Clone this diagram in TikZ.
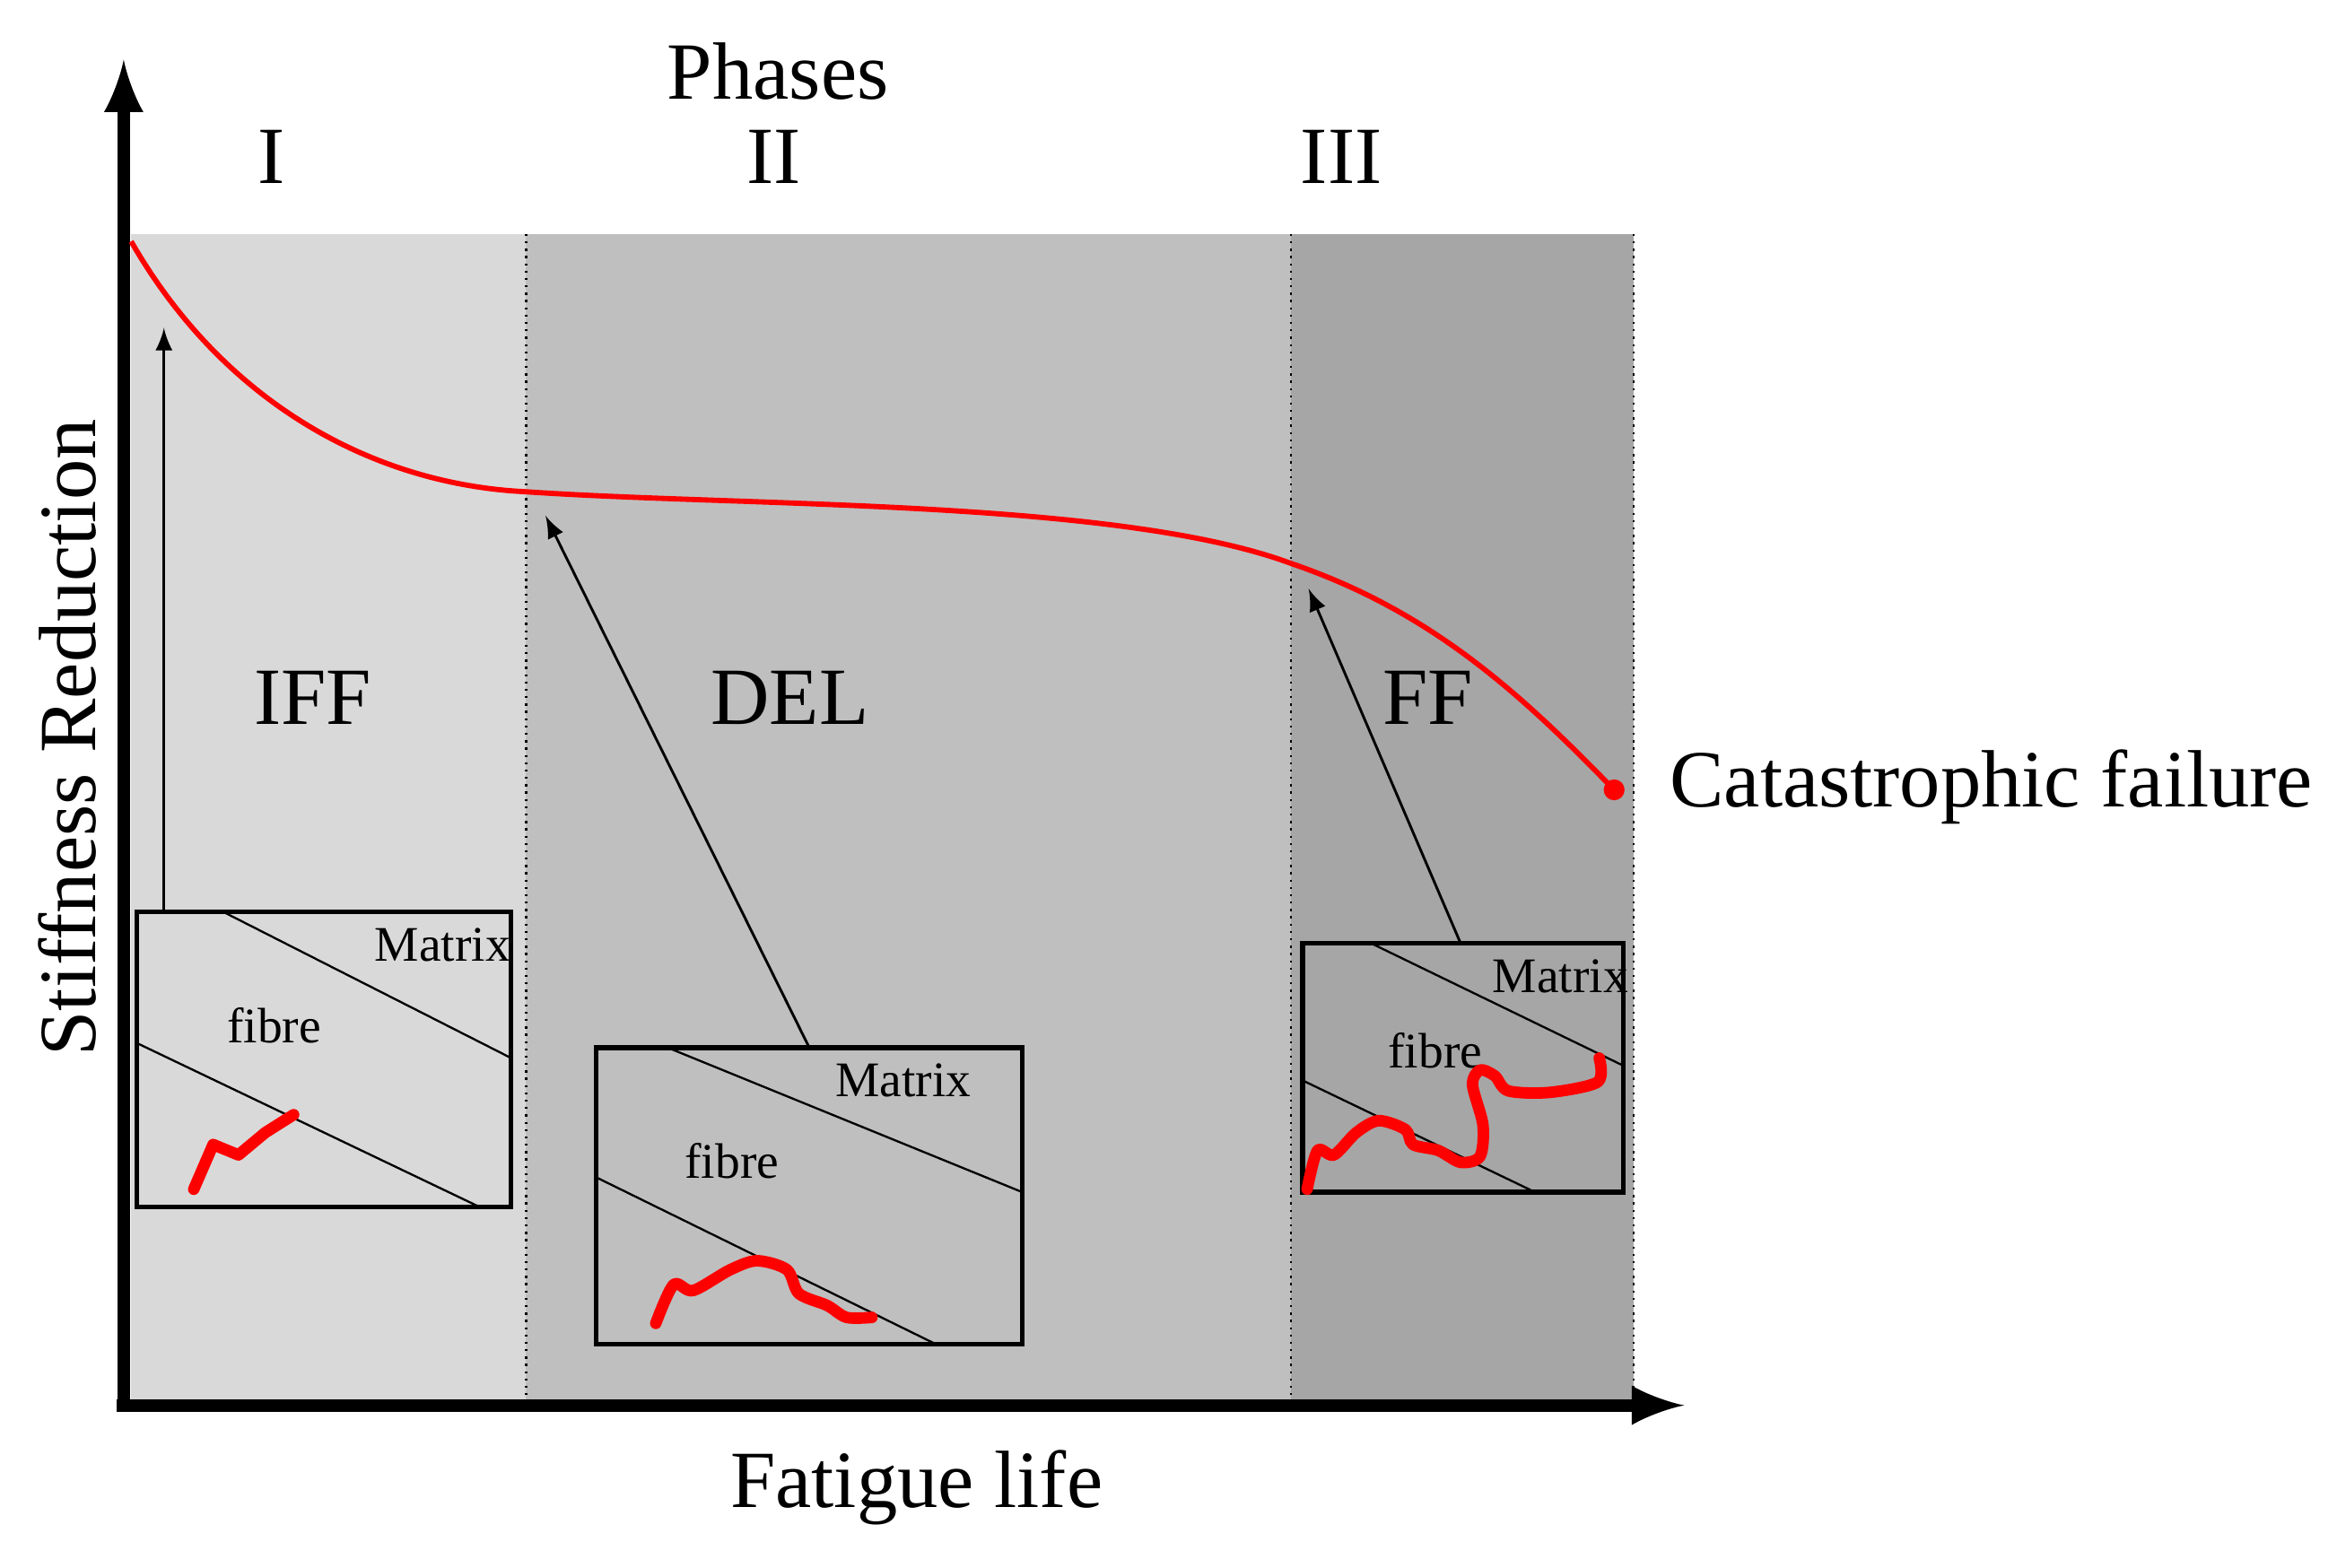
\documentclass[tikz,border=0pt]{standalone}
\usepackage{fontspec}
\setmainfont{Liberation Serif}
\begin{document}
\begin{tikzpicture}[x=0.01cm,y=-0.01cm,
  lbl/.style={font=\fontsize{15.5}{17}\selectfont},
  small/.style={font=\fontsize{9.5}{11}\selectfont},
  crack/.style={red,line width=2.2pt,line cap=round,line join=round},
  sep/.style={black,densely dotted,line width=0.4pt},
  ptr/.style={-latex,line width=0.5pt},
  box/.style={draw,line width=0.9pt}]
\useasboundingbox (0,0) rectangle (1568,1052);
\fill[gray!30] (88,157) rectangle (353,943);
\fill[gray!50] (353,157) rectangle (866,943);
\fill[gray!70] (866,157) rectangle (1096,943);
\draw[sep] (353,157)--(353,943);
\draw[sep] (866,157)--(866,943);
\draw[sep] (1096,157)--(1096,955);
\draw[line width=2.4pt,-latex] (83,945)--(83,40);
\draw[line width=2.4pt,-latex] (78,943)--(1130,943);
\draw[red,line width=1pt] (88,162) .. controls (150,270) and (250,325) .. (353,330)
  .. controls (500,340) and (750,335) .. (866,378)
  .. controls (960,410) and (1020,465) .. (1083,530);
\fill[red] (1083,530) circle (7);
\node[lbl] (ph) at (522,48) {Phases};
\node[lbl] (p1) at (182,105) {I};
\node[lbl] (p2) at (519,105) {II};
\node[lbl] (p3) at (900,105) {III};
\node[lbl] (iff) at (210,468) {IFF};
\node[lbl] (del) at (530,468) {DEL};
\node[lbl] (ff) at (958,468) {FF};
\node[lbl,anchor=west] (cat) at (1108,528) {Catastrophic failure};
\node[lbl] (fl) at (615,998) {Fatigue life};
\node[lbl,rotate=90] (sr) at (45,495) {Stiffness Reduction};
% box 1
\draw[box] (92,612) rectangle (343,810);
\draw (150,612)--(343,710); \draw (92,700)--(322,810);
\node[small] (m1) at (297,634) {Matrix};
\node[small] (f1) at (184,688) {fibre};
\draw[crack] (130,798)--(143,768)--(160,775)--(178,760)--(197,748);
\coordinate (a1s) at (110,612); \coordinate (a1e) at (110,220);
\draw[ptr] (a1s)--(a1e);
% box 2
\draw[box] (400,703) rectangle (686,902);
\draw (448,703)--(686,800); \draw (400,790)--(628,902);
\node[small] (m2) at (606,725) {Matrix};
\node[small] (f2) at (491,779) {fibre};
\draw[crack] plot[smooth] coordinates {(440,888) (452,862) (465,866) (490,852) (508,846) (528,852) (536,868) (555,876) (568,884) (585,884)};
\coordinate (a2s) at (543,703); \coordinate (a2e) at (366,346);
\draw[ptr] (a2s)--(a2e);
% box 3
\draw[box] (874,633) rectangle (1089,800);
\draw (920,633)--(1089,715); \draw (874,725)--(1030,800);
\node[small] (m3) at (1047,655) {Matrix};
\node[small] (f3) at (963,705) {fibre};
\draw[crack] plot[smooth] coordinates {(877,798) (884,772) (895,775) (910,760) (925,752) (943,758) (948,768) (965,772) (980,780) (993,776) (995,755) (988,728) (993,718) (1003,722) (1012,732) (1040,733) (1072,726) (1073,710)};
\coordinate (a3s) at (980,633); \coordinate (a3e) at (878,395);
\draw[ptr] (a3s)--(a3e);
\end{tikzpicture}
\end{document}
